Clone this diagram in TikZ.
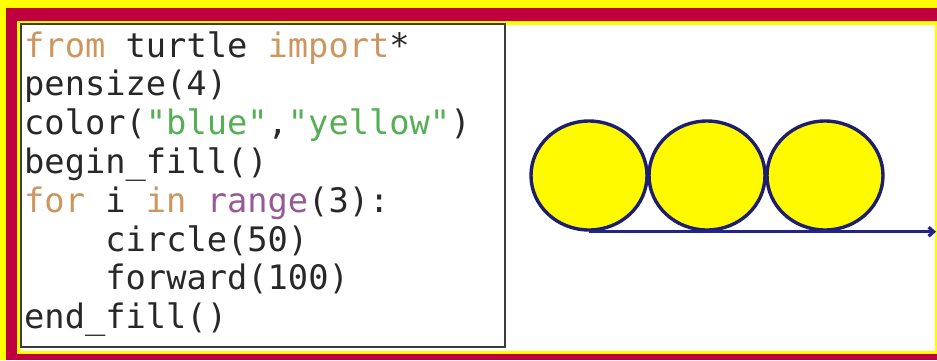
\documentclass[tikz,border=0pt]{standalone}
\usepackage{fontspec}
\newfontfamily\codefont{DejaVu Sans Mono}
\usetikzlibrary{arrows.meta,shapes.geometric}
\definecolor{frameyellow}{RGB}{255,255,0}
\definecolor{crimson}{RGB}{192,0,62}
\definecolor{codegray}{RGB}{40,40,40}
\definecolor{kwcolor}{RGB}{205,150,95}
\definecolor{strcolor}{RGB}{85,175,85}
\definecolor{bicolor}{RGB}{150,90,150}
\definecolor{boxborder}{RGB}{60,60,60}
\definecolor{navy}{RGB}{30,30,110}
\definecolor{penblue}{RGB}{35,35,140}
\definecolor{fillyellow}{RGB}{255,250,0}
\begin{document}
\begin{tikzpicture}[x=1pt,y=-1pt,
  codeline/.style={anchor=base west, inner sep=0pt, text=codegray,
    font=\codefont\fontsize{33.7}{38}\selectfont},
  codebox/.style={draw=boxborder, line width=2.2pt, fill=white, inner sep=0pt,
    minimum width=484pt, minimum height=323pt},
  turtlecircle/.style={ellipse, draw=navy, line width=3.4pt, fill=fillyellow,
    inner sep=0pt, minimum width=116pt, minimum height=109pt},
  turtleline/.style={draw=penblue, line width=3.2pt,
    -{Straight Barb[length=5pt,width=9pt]}}]
\useasboundingbox (0,0) rectangle (937,360);
\fill[frameyellow] (0,0) rectangle (937,360);
\fill[crimson] (6,8) rectangle (937,360);
\fill[frameyellow] (17,21) rectangle (937,354);
\fill[white] (21,25) rectangle (935,351);
% code panel
\node[codebox] (code) at (263,185.5) {};
\node[codeline] (l1) at (24,57.0) {\textcolor{kwcolor}{from} turtle \textcolor{kwcolor}{import}*};
\node[codeline] (l2) at (24,95.8) {pensize(4)};
\node[codeline] (l3) at (24,134.6) {color(\textcolor{strcolor}{"blue"},\textcolor{strcolor}{"yellow"})};
\node[codeline] (l4) at (24,173.4) {begin\_fill()};
\node[codeline] (l5) at (24,212.2) {\textcolor{kwcolor}{for} i \textcolor{kwcolor}{in} \textcolor{bicolor}{range}(3):};
\node[codeline] (l6) at (105.2,251.0) {circle(50)};
\node[codeline] (l7) at (105.2,289.8) {forward(100)};
\node[codeline] (l8) at (24,328.6) {end\_fill()};
% turtle drawing
\node[turtlecircle] (c1) at (589,175.5) {};
\node[turtlecircle] (c2) at (707,175.5) {};
\node[turtlecircle] (c3) at (825,175.5) {};
\coordinate (lineend) at (936,229);
\draw[turtleline] (c1.south) -- (c1.south -| lineend);
\end{tikzpicture}
\end{document}
